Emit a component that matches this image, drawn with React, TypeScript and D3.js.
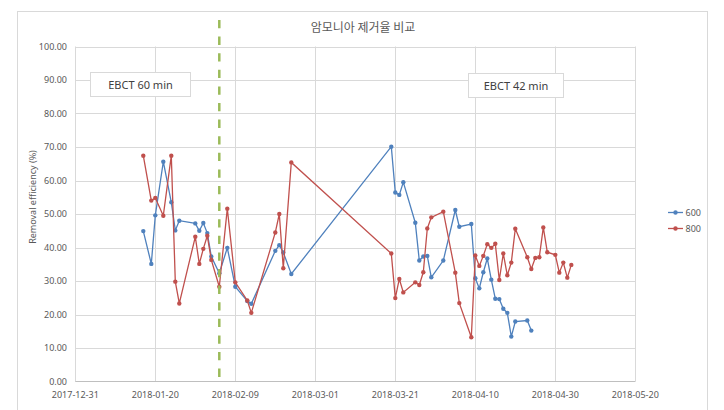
import React from "react";
import * as d3 from "d3";

const title = "암모니아 제거율 비교";
const yTitle = "Removal efficiency (%)";
const yTicks = [0, 10, 20, 30, 40, 50, 60, 70, 80, 90, 100];
const xTickDates = ["2017-12-31", "2018-01-20", "2018-02-09", "2018-03-01", "2018-03-21", "2018-04-10", "2018-04-30", "2018-05-20"];
const dividerDate = "2018-02-05";
const seriesNames = ["600", "800"];
const seriesColors = ["#4F81BD", "#C0504D"];
const boxLabels = ["EBCT 60 min", "EBCT 42 min"];

const dates600 = [
  "2018-01-17", "2018-01-19", "2018-01-20", "2018-01-22", "2018-01-24", "2018-01-25", "2018-01-26",
  "2018-01-30", "2018-01-31", "2018-02-01", "2018-02-02", "2018-02-03", "2018-02-05", "2018-02-07",
  "2018-02-09", "2018-02-12", "2018-02-13", "2018-02-19", "2018-02-20", "2018-02-21", "2018-02-23",
  "2018-03-20", "2018-03-21", "2018-03-22", "2018-03-23", "2018-03-26", "2018-03-27", "2018-03-28",
  "2018-03-29", "2018-03-30", "2018-04-02", "2018-04-05", "2018-04-06", "2018-04-09", "2018-04-10",
  "2018-04-11", "2018-04-12", "2018-04-13", "2018-04-14", "2018-04-15", "2018-04-16", "2018-04-17",
  "2018-04-18", "2018-04-19", "2018-04-20", "2018-04-23", "2018-04-24",
];
const values600 = [
  44.9, 35.1, 49.6, 65.6, 53.5, 45.1, 48.0,
  47.2, 45.0, 47.3, 44.3, 37.3, 32.3, 39.9,
  28.3, 24.0, 23.2, 39.0, 40.7, 38.5, 32.1,
  70.1, 56.4, 55.7, 59.5, 47.4, 36.1, 37.3,
  37.5, 31.1, 36.1, 51.2, 46.2, 47.0, 30.8,
  27.8, 32.6, 36.7, 30.4, 24.7, 24.6, 21.7,
  20.5, 13.4, 17.9, 18.2, 15.2,
];

const dates800 = [
  "2018-01-17", "2018-01-19", "2018-01-20", "2018-01-22", "2018-01-24", "2018-01-25", "2018-01-26",
  "2018-01-30", "2018-01-31", "2018-02-01", "2018-02-02", "2018-02-03", "2018-02-05", "2018-02-07",
  "2018-02-09", "2018-02-12", "2018-02-13", "2018-02-19", "2018-02-20", "2018-02-21", "2018-02-23",
  "2018-03-20", "2018-03-21", "2018-03-22", "2018-03-23", "2018-03-26", "2018-03-27", "2018-03-28",
  "2018-03-29", "2018-03-30", "2018-04-02", "2018-04-05", "2018-04-06", "2018-04-09", "2018-04-10",
  "2018-04-11", "2018-04-12", "2018-04-13", "2018-04-14", "2018-04-15", "2018-04-16", "2018-04-17",
  "2018-04-18", "2018-04-19", "2018-04-20", "2018-04-23", "2018-04-24", "2018-04-25", "2018-04-26",
  "2018-04-27", "2018-04-28", "2018-04-30", "2018-05-01", "2018-05-02", "2018-05-03", "2018-05-04",
];
const values800 = [
  67.4, 54.0, 54.8, 49.5, 67.4, 29.8, 23.3,
  43.2, 35.1, 39.6, 43.5, 36.3, 28.3, 51.6,
  29.6, 24.2, 20.5, 44.5, 50.0, 33.8, 65.4,
  38.2, 24.9, 30.6, 26.6, 29.6, 28.8, 32.6,
  45.7, 49.0, 50.7, 32.5, 23.4, 13.2, 37.6,
  34.5, 37.5, 41.0, 39.9, 41.1, 30.3, 38.2,
  31.7, 35.5, 45.6, 37.1, 33.6, 36.9, 37.1,
  46.0, 38.6, 37.8, 32.5, 35.5, 31.0, 34.8,
];

const parse = d3.timeParse("%Y-%m-%d");
const fmt = d3.timeFormat("%Y-%m-%d");

export default function App() {
  const W = 724, H = 410;
  const x = d3.scaleTime()
    .domain([parse(xTickDates[0])!, parse(xTickDates[xTickDates.length - 1])!])
    .range([75.3, 635.3]);
  const y = d3.scaleLinear().domain([0, 100]).range([381.5, 46.5]);

  const series = [
    { name: seriesNames[0], color: seriesColors[0], pts: dates600.map((d, i) => ({ d: parse(d)!, v: values600[i] })) },
    { name: seriesNames[1], color: seriesColors[1], pts: dates800.map((d, i) => ({ d: parse(d)!, v: values800[i] })) },
  ];
  const line = d3.line<{ d: Date; v: number }>().x(p => x(p.d)).y(p => y(p.v));
  const font = "'Noto Sans', 'Open Sans', sans-serif";
  const xTicks = xTickDates.map(s => parse(s)!);
  const divX = x(parse(dividerDate)!);

  return (
    <svg width={W} height={H} style={{ position: "absolute", left: 0, top: 0, background: "#fff" }}>
      <rect x={0} y={0} width={W} height={H} fill="#fff" />
      <rect x={17.5} y={11.5} width={690} height={420} fill="none" stroke="#D9D9D9" strokeWidth={1} />
      <text x={363} y={32} textAnchor="middle" fontSize={12} fill="#595959"
        fontFamily="'Noto Sans CJK KR', sans-serif">{title}</text>

      {/* gridlines */}
      {yTicks.filter(t => t > 0).map(t => (
        <line key={"gy" + t} x1={x(xTicks[0])} x2={x(xTicks[xTicks.length - 1])}
          y1={Math.round(y(t)) + 0.5} y2={Math.round(y(t)) + 0.5} stroke="#D9D9D9" strokeWidth={1} />
      ))}
      {xTicks.map((t, i) => (
        <line key={"gx" + i} x1={Math.round(x(t)) + 0.5} x2={Math.round(x(t)) + 0.5}
          y1={y(100)} y2={y(0)} stroke="#D9D9D9" strokeWidth={1} />
      ))}
      <line x1={x(xTicks[0])} x2={x(xTicks[xTicks.length - 1])} y1={381.5} y2={381.5} stroke="#BFBFBF" strokeWidth={1} />

      {/* y tick labels */}
      {yTicks.map(t => (
        <text key={"ty" + t} x={67} y={y(t) + 3} textAnchor="end" fontSize={9} fill="#595959" fontFamily={font}>
          {t.toFixed(2)}
        </text>
      ))}
      {/* x tick labels */}
      {xTicks.map((t, i) => (
        <text key={"tx" + i} x={x(t)} y={398} textAnchor="middle" fontSize={9} fill="#595959" fontFamily={font}>
          {fmt(t)}
        </text>
      ))}
      <text transform={`translate(36,197) rotate(-90)`} textAnchor="middle" fontSize={9} fill="#595959" fontFamily={font}>
        {yTitle}
      </text>

      {/* annotation boxes */}
      <rect x={90.5} y={72.5} width={100} height={24} fill="#fff" stroke="#D9D9D9" />
      <text x={140.5} y={88.5} textAnchor="middle" fontSize={11} fill="#404040" fontFamily={font}>{boxLabels[0]}</text>
      <rect x={468.5} y={73.5} width={95} height={24} fill="#fff" stroke="#D9D9D9" />
      <text x={516} y={89.5} textAnchor="middle" fontSize={11} fill="#404040" fontFamily={font}>{boxLabels[1]}</text>

      {/* series */}
      {series.map(s => (
        <g key={s.name}>
          <path d={line(s.pts) || ""} fill="none" stroke={s.color} strokeWidth={1.3} />
          {s.pts.map((p, i) => (
            <circle key={i} cx={x(p.d)} cy={y(p.v)} r={2.2} fill={s.color} />
          ))}
        </g>
      ))}

      {/* divider */}
      <line x1={divX} x2={divX} y1={20} y2={385} stroke="#9BBB59" strokeWidth={2.5} strokeDasharray="8.3,8.3" />

      {/* legend */}
      {series.map((s, i) => (
        <g key={"lg" + i} transform={`translate(0,${212.5 + i * 16})`}>
          <line x1={668} x2={683} y1={0} y2={0} stroke={s.color} strokeWidth={1.3} />
          <circle cx={675.5} cy={0} r={2.2} fill={s.color} />
          <text x={685.5} y={3.2} fontSize={9} fill="#595959" fontFamily={font}>{s.name}</text>
        </g>
      ))}
    </svg>
  );
}
